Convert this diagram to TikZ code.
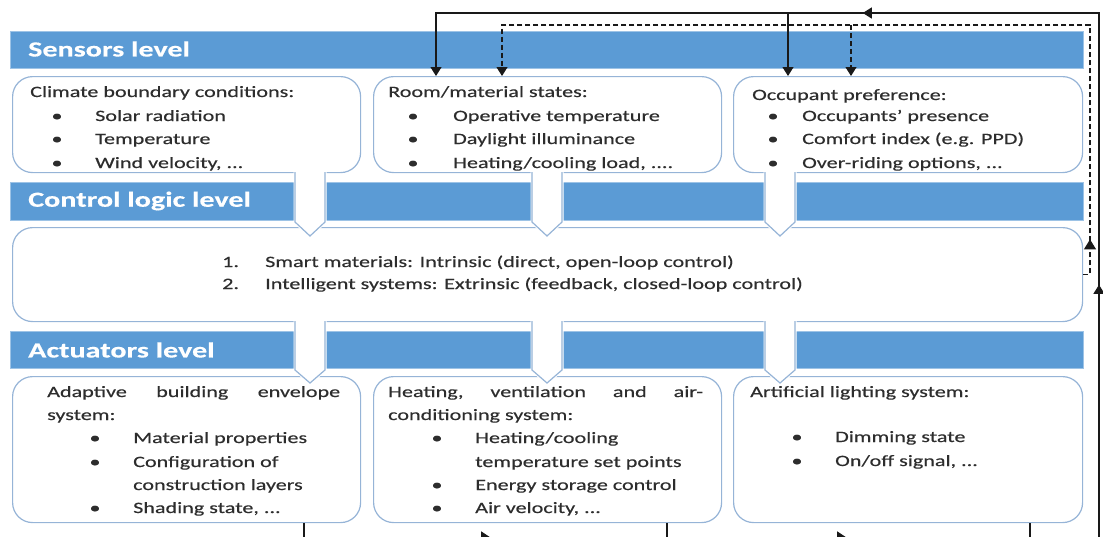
\documentclass[tikz,border=0pt]{standalone}
\usepackage{fontspec}
\setmainfont{Carlito}[FakeStretch=1.4,FakeBold=0.35]
\usetikzlibrary{arrows.meta,decorations.markings}
\definecolor{barblue}{RGB}{91,155,213}
\definecolor{boxline}{RGB}{150,180,215}
\definecolor{txt}{RGB}{45,45,45}
\definecolor{wirec}{RGB}{25,25,25}
\begin{document}
\begin{tikzpicture}[x=1pt,y=-1pt,
  bar/.style={fill=barblue, draw=barblue!60!white, line width=0.6pt},
  bartext/.style={anchor=west, text=white, inner sep=0pt, font=\fontsize{21.5}{25}\selectfont\bfseries},
  panel/.style={draw=boxline, line width=1.2pt, rounded corners=20pt, fill=white, anchor=north west, inner sep=0pt},
  t/.style={anchor=base west, inner sep=0pt, text=txt, font=\fontsize{15.8}{18}\selectfont},
  bul/.style={anchor=base, inner sep=0pt, text=txt, font=\fontsize{15.8}{18}\selectfont},
  wire/.style={draw=wirec, line width=1.2pt},
  dashwire/.style={draw=wirec, line width=1.2pt, dash pattern=on 5pt off 3pt},
  tipend/.style={-{Triangle[width=11pt,length=9pt]}},
  midtips/.style={postaction={decorate}, decoration={markings,#1}},
  stemfill/.style={fill=white, draw=white, line width=3pt},
  stemline/.style={draw=boxline, line width=1.2pt}
]
\useasboundingbox (0,0) rectangle (1103,536);

% ---------- bars ----------
\path[bar] (10,31) rectangle (1083,68);
\node[bartext] (sbt) at (28,49) {Sensors level};
\path[bar] (10,182) rectangle (1083,220);
\node[bartext] (cbt) at (28,201) {Control logic level};
\path[bar] (10,331) rectangle (1083,368);
\node[bartext] (abt) at (28,350) {Actuators level};

% ---------- panels ----------
\node[panel, minimum width=348pt, minimum height=96pt] (s1) at (12,76) {};
\node[panel, minimum width=348pt, minimum height=96pt] (s2) at (373,76) {};
\node[panel, minimum width=349pt, minimum height=96pt] (s3) at (733,76) {};
\node[panel, minimum width=1070pt, minimum height=94pt] (c) at (12,227) {};
\node[panel, minimum width=348pt, minimum height=146pt] (a1) at (12,376) {};
\node[panel, minimum width=348pt, minimum height=146pt] (a2) at (373,376) {};
\node[panel, minimum width=349pt, minimum height=146pt] (a3) at (733,376) {};

% ---------- block arrows between levels ----------
\foreach \cx in {310,547,780}{
  \path[stemfill] (\cx-15,170) -- (\cx-15,222) -- (\cx,236) -- (\cx+15,222) -- (\cx+15,170) -- cycle;
  \path[stemline] (\cx-15,172) -- (\cx-15,222) -- (\cx,236) -- (\cx+15,222) -- (\cx+15,172);
  \path[stemfill] (\cx-15,319) -- (\cx-15,370) -- (\cx,383) -- (\cx+15,370) -- (\cx+15,319) -- cycle;
  \path[stemline] (\cx-15,321) -- (\cx-15,370) -- (\cx,383) -- (\cx+15,370) -- (\cx+15,321);
}

% ---------- sensor texts ----------
\node[t] (s1h) at (30,97) {Climate boundary conditions:};
\foreach \yy/\tx [count=\i] in {121/Solar radiation,144/Temperature,168/{Wind velocity, ...}}{
  \node[bul] (s1b\i) at (57,\yy) {\textbullet};
  \node[t] (s1i\i) at (95,\yy) {\tx};
}
\node[t] (s2h) at (388,97) {Room/material states:};
\foreach \yy/\tx [count=\i] in {121/Operative temperature,144/Daylight illuminance,168/{Heating/cooling load, ....}}{
  \node[bul] (s2b\i) at (413,\yy) {\textbullet};
  \node[t] (s2i\i) at (453,\yy) {\tx};
}
\node[t] (s3h) at (752,100) {Occupant preference:};
\foreach \yy/\tx [count=\i] in {121/Occupants’ presence,144/{Comfort index (e.g. PPD)},168/{Over-riding options, ...}}{
  \node[bul] (s3b\i) at (773,\yy) {\textbullet};
  \node[t] (s3i\i) at (802,\yy) {\tx};
}

% ---------- control texts ----------
\node[t] (c1n) at (222,267) {1.};
\node[t] (c1t) at (265,267) {Smart materials: Intrinsic (direct, open-loop control)};
\node[t] (c2n) at (222,289) {2.};
\node[t] (c2t) at (265,289) {Intelligent systems: Extrinsic (feedback, closed-loop control)};

% ---------- actuator texts ----------
\node[t] (a1h) at (47,397) {\hbox to 293pt{Adaptive\hfill building\hfill envelope}};
\node[t] (a1h2) at (47,420) {system:};
\node[bul] (a1b1) at (95,443) {\textbullet};
\node[t] (a1i1) at (133,443) {Material properties};
\node[bul] (a1b2) at (95,467) {\textbullet};
\node[t] (a1i2) at (133,467) {Configuration of};
\node[t] (a1i2b) at (133,490) {construction layers};
\node[bul] (a1b3) at (95,513) {\textbullet};
\node[t] (a1i3) at (133,513) {Shading state, ...};

\node[t] (a2h) at (388,397) {\hbox to 315pt{Heating,\hfill ventilation\hfill and\hfill air-}};
\node[t] (a2h2) at (388,420) {conditioning system:};
\node[bul] (a2b1) at (437,443) {\textbullet};
\node[t] (a2i1) at (475,443) {Heating/cooling};
\node[t] (a2i1b) at (475,467) {temperature set points};
\node[bul] (a2b2) at (437,490) {\textbullet};
\node[t] (a2i2) at (475,490) {Energy storage control};
\node[bul] (a2b3) at (437,513) {\textbullet};
\node[t] (a2i3) at (475,513) {Air velocity, ...};

\node[t] (a3h) at (750,397) {Artificial lighting system:};
\node[bul] (a3b1) at (797,442) {\textbullet};
\node[t] (a3i1) at (835,442) {Dimming state};
\node[bul] (a3b2) at (797,466) {\textbullet};
\node[t] (a3i2) at (835,466) {On/off signal, ...};

% ---------- feedback wiring (solid) ----------
\coordinate (bl) at (304,538);
\coordinate (br) at (1099,538);
\coordinate (tr) at (1099,13);
\coordinate (tl) at (436,13);
\coordinate (tm) at (788,13);
\path[wire, tipend, midtips={mark=at position 202pt with {\arrow{Triangle[width=13pt,length=10pt]}},
                           mark=at position 558pt with {\arrow{Triangle[width=13pt,length=10pt]}},
                           mark=at position 1063pt with {\arrow{Triangle[width=11pt,length=9pt]}},
                           mark=at position 1571pt with {\arrow{Triangle[width=11pt,length=9pt]}}}]
  (304,0 |- a1.south) -- (bl) -- (br) -- (tr) -- (tl) -- (tl |- s2.north);
\path[wire] (667,0 |- a2.south) -- (667,538);
\path[wire] (1030,0 |- a3.south) -- (1030,538);
\path[wire, tipend] (tm) -- (tm |- s3.north);

% ---------- feedback wiring (dashed) ----------
\coordinate (dr0) at (1090,0 |- c.east);
\coordinate (drt) at (1090,25);
\coordinate (dl) at (502,25);
\coordinate (dm) at (851,25);
\path[dashwire, tipend, midtips={mark=at position 42pt with {\arrow{Triangle[width=12pt,length=10pt]}}}]
  (c.east) -- (dr0) -- (drt) -- (dl) -- (dl |- s2.north);
\path[dashwire, tipend] (dm) -- (dm |- s3.north);
\end{tikzpicture}
\end{document}
